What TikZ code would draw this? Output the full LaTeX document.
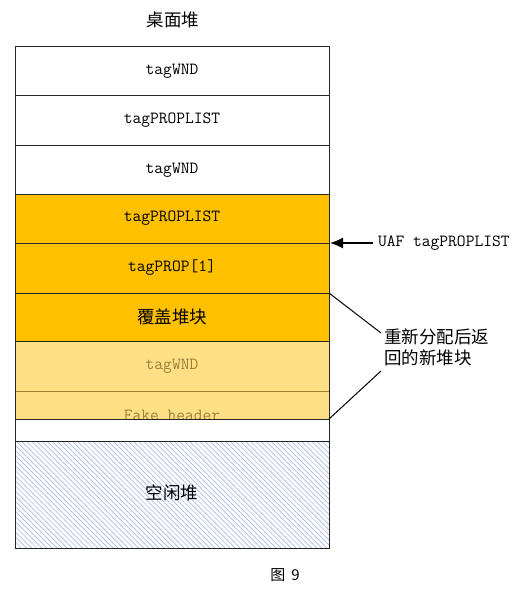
\documentclass[tikz,border=0pt]{standalone}
\usepackage{fontspec}
\newfontfamily\cjk{Noto Sans CJK SC}
\usetikzlibrary{patterns.meta,arrows.meta}
\definecolor{orng}{HTML}{FFC000}
\definecolor{lite}{HTML}{FFE085}
\definecolor{litetext}{RGB}{150,128,60}
\definecolor{liteline}{RGB}{160,128,48}
\definecolor{hatch}{RGB}{145,168,225}
\tikzset{
  cell/.style={draw=black!85, line width=0.8pt},
  lbl/.style={font=\ttfamily\fontsize{17}{19}\selectfont, inner sep=0pt, anchor=center},
  cjklbl/.style={font=\cjk\fontsize{17.5}{21}\selectfont, inner sep=0pt},
  pointer/.style={draw=black, line width=1.2pt},
}
\begin{document}
\begin{tikzpicture}[x=1pt,y=-1pt]
\useasboundingbox (0,0) rectangle (527,603);
% white rows
\draw[cell, fill=white] (15,46) rectangle (329,95);
\draw[cell, fill=white] (15,95) rectangle (329,145);
\draw[cell, fill=white] (15,145) rectangle (329,194);
% orange rows
\draw[cell, fill=orng] (15,194) rectangle (329,243);
\draw[cell, fill=orng] (15,243) rectangle (329,293);
\draw[cell, fill=orng] (15,293) rectangle (329,341);
% light rows
\fill[lite] (15,341) rectangle (329,419);
\draw[liteline, line width=0.8pt] (15,391) -- (329,391);
\node[lbl, text=litetext] (wnd3) at (172,366) {tagWND};
\node[lbl, text=litetext] (fake) at (172,415) {Fake header};
\draw[cell] (15,341) rectangle (329,419);
% white gap row (covers bottom of Fake header text)
\fill[white] (15.4,419.4) rectangle (328.6,440);
\draw[cell] (15,419) -- (15,441) (329,419) -- (329,441) (15,419) -- (329,419);
% hatched free heap
\fill[pattern={Lines[angle=-45, distance=3.6pt, line width=0.5pt]}, pattern color=hatch] (15,441) rectangle (329,548);
\draw[cell] (15,441) rectangle (329,548);
% labels
\node[cjklbl] (title) at (173,20) {桌面堆};
\node[lbl] (wnd1) at (172,71) {tagWND};
\node[lbl] (pl1) at (172,120) {tagPROPLIST};
\node[lbl] (wnd2) at (172,170) {tagWND};
\node[lbl] (pl2) at (172,218) {tagPROPLIST};
\node[lbl] (prop) at (172,268) {tagPROP[1]};
\node[cjklbl] (cover) at (172,317) {覆盖堆块};
\node[cjklbl] (free) at (172,493) {空闲堆};
\node[cjklbl, font=\cjk\fontsize{15}{18}\selectfont] (fig) at (285,575) {图\hspace{6pt}9};
% UAF pointer
\coordinate (uafpt) at (330,243);
\node[lbl, anchor=west] (uaf) at (378,243) {UAF tagPROPLIST};
\draw[pointer, -{Latex[length=13pt,width=11pt]}] (373,243) -- (uafpt);
% new chunk label
\node[cjklbl, anchor=north west, align=left, font=\cjk\fontsize{17.5}{21}\selectfont] (newchunk) at (384,329) {重新分配后返\\回的新堆块};
\coordinate (c1) at (329,293);
\coordinate (c2) at (329,419);
\coordinate (e1) at (381,333);
\coordinate (e2) at (381,371);
\draw[pointer, line width=1pt] (c1) -- (e1);
\draw[pointer, line width=1pt] (c2) -- (e2);
\end{tikzpicture}
\end{document}
